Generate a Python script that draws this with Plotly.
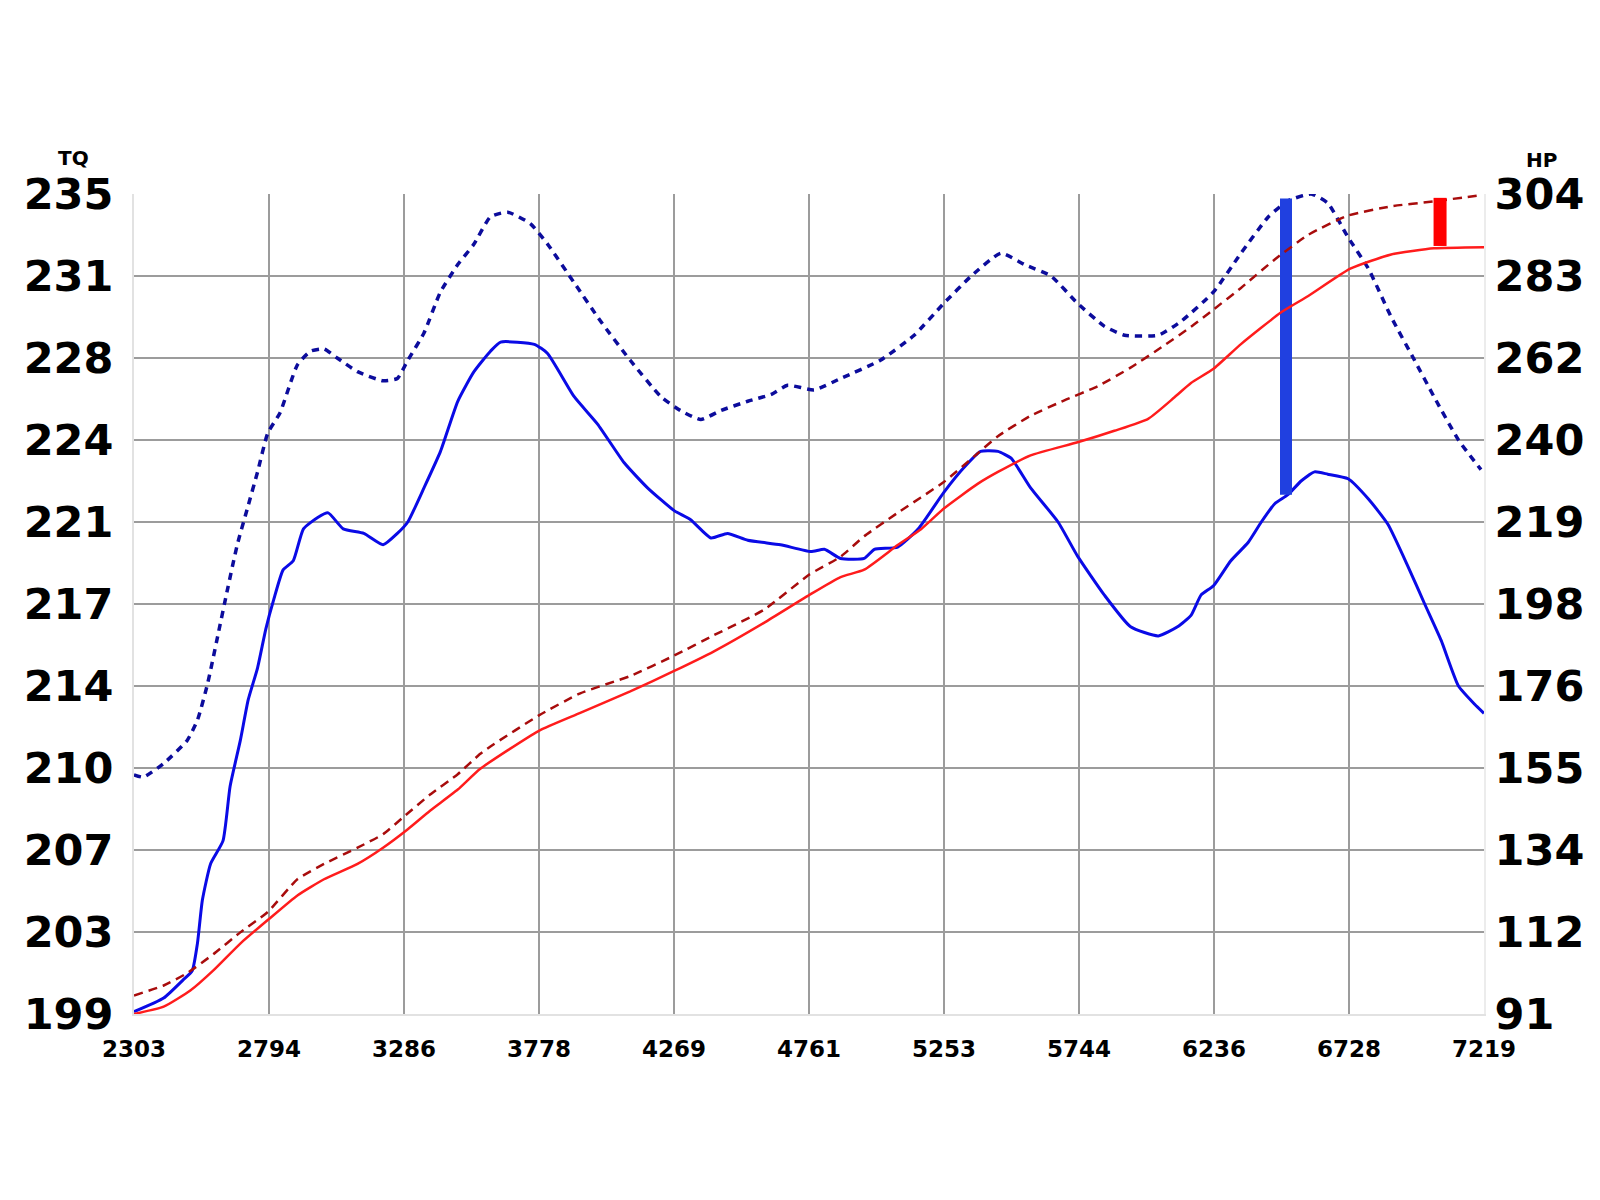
import plotly.graph_objects as go

# ---- axis ticks ----
rpm_ticks = [2303, 2794, 3286, 3778, 4269, 4761, 5253, 5744, 6236, 6728, 7219]
tq_labels = ["199", "203", "207", "210", "214", "217", "221", "224", "228", "231", "235"]
hp_labels = ["91", "112", "134", "155", "176", "198", "219", "240", "262", "283", "304"]
TQ_MIN, TQ_MAX = 199, 235
HP_MIN, HP_MAX = 91, 304
RPM_MIN, RPM_MAX = 2303, 7219

# ---- torque, run A (solid blue) ----
tq_a_rpm = [2303, 2411, 2482, 2515, 2534, 2552, 2582, 2627, 2653, 2690, 2719, 2753, 2783, 2812,
            2846, 2883, 2920, 2972, 3010, 3065, 3140, 3210, 3262, 3300, 3359, 3419, 3482, 3541,
            3601, 3638, 3761, 3809, 3906, 3991, 4088, 4173, 4270, 4330, 4404, 4464, 4538, 4657,
            4768, 4817, 4876, 4962, 4999, 5084, 5159, 5252, 5326, 5386, 5449, 5497, 5568, 5668,
            5739, 5836, 5932, 6033, 6103, 6152, 6189, 6234, 6297, 6360, 6408, 6457, 6505, 6553,
            6602, 6650, 6724, 6799, 6869, 6944, 7003, 7063, 7126, 7185, 7219]
tq_a = [199.1, 199.7, 200.5, 200.9, 202.1, 204.0, 205.6, 206.6, 209.0, 211.0, 212.8, 214.2, 215.9,
        217.2, 218.5, 218.9, 220.3, 220.8, 221.0, 220.3, 220.1, 219.6, 220.1, 220.6, 222.1, 223.7,
        225.9, 227.2, 228.1, 228.5, 228.4, 228.0, 226.1, 224.9, 223.2, 222.1, 221.1, 220.7, 219.9,
        220.1, 219.8, 219.6, 219.3, 219.4, 219.0, 219.0, 219.4, 219.5, 220.3, 221.9, 223.0, 223.7,
        223.7, 223.4, 222.1, 220.6, 219.1, 217.4, 216.0, 215.6, 216.0, 216.5, 217.4, 217.8, 218.9,
        219.7, 220.6, 221.4, 221.8, 222.4, 222.8, 222.7, 222.5, 221.6, 220.5, 218.6, 217.0, 215.4,
        213.4, 212.6, 212.2]

# ---- torque, run B (dotted navy) ----
tq_b_rpm = [2303, 2337, 2411, 2496, 2534, 2571, 2608, 2641, 2679, 2716, 2753, 2790, 2835, 2898,
            2946, 2995, 3043, 3117, 3210, 3262, 3300, 3359, 3419, 3482, 3541, 3601, 3664, 3746,
            3809, 3906, 4003, 4110, 4222, 4292, 4367, 4441, 4538, 4623, 4683, 4780, 4876, 5021,
            5144, 5252, 5352, 5460, 5546, 5642, 5739, 5836, 5910, 6033, 6115, 6234, 6334, 6434,
            6505, 6590, 6650, 6724, 6799, 6881, 6966, 7037, 7126, 7208]
tq_b = [209.5, 209.4, 210.0, 211.0, 211.9, 213.5, 215.6, 217.5, 219.6, 221.2, 222.8, 224.5, 225.4,
        227.5, 228.1, 228.2, 227.8, 227.2, 226.8, 226.9, 227.7, 228.9, 230.7, 231.9, 232.8, 234.0,
        234.2, 233.7, 232.8, 231.1, 229.4, 227.7, 226.1, 225.5, 225.1, 225.5, 225.9, 226.2, 226.6,
        226.4, 226.9, 227.7, 228.8, 230.2, 231.4, 232.4, 231.9, 231.4, 230.2, 229.2, 228.8, 228.8,
        229.4, 230.7, 232.4, 234.0, 234.7, 235.0, 234.6, 233.1, 231.7, 229.6, 227.7, 226.1, 224.2,
        222.9]

# ---- horsepower, run A (solid red) ----
hp_a_rpm = [2303, 2411, 2508, 2593, 2690, 2790, 2898, 2995, 3117, 3210, 3300, 3381, 3482, 3564,
            3776, 3928, 4110, 4270, 4415, 4597, 4761, 4876, 4962, 5084, 5170, 5252, 5375, 5449,
            5568, 5739, 5873, 5996, 6092, 6152, 6234, 6334, 6479, 6579, 6732, 6881, 7037, 7219]
hp_a = [91.0, 92.9, 97.1, 102.4, 109.3, 115.4, 121.8, 126.0, 130.0, 134.2, 139.0, 143.8, 149.3,
        154.7, 164.5, 169.2, 174.8, 180.1, 185.2, 192.6, 199.8, 204.5, 206.4, 212.8, 217.0, 222.3,
        228.7, 231.8, 236.1, 239.5, 242.5, 245.6, 251.2, 254.9, 258.6, 265.0, 273.2, 277.5, 284.6,
        288.3, 289.9, 290.2]

# ---- horsepower, run B (dashed dark red) ----
hp_b_rpm = [2303, 2411, 2496, 2593, 2690, 2790, 2898, 2995, 3117, 3210, 3288, 3381, 3482, 3564,
            3601, 3776, 3928, 4110, 4270, 4415, 4597, 4761, 4876, 4962, 5084, 5252, 5375, 5449,
            5568, 5691, 5813, 5932, 6055, 6152, 6234, 6334, 6457, 6579, 6724, 6881, 7037, 7208]
hp_b = [95.8, 98.4, 101.6, 106.6, 112.2, 117.5, 126.0, 130.0, 134.2, 137.7, 142.4, 148.0, 153.3,
        158.6, 160.5, 168.5, 174.3, 178.8, 184.1, 189.4, 196.0, 205.1, 209.8, 215.1, 221.2, 229.2,
        236.6, 241.1, 246.4, 250.4, 254.1, 258.9, 264.7, 269.5, 274.0, 279.6, 287.0, 293.4, 298.4,
        300.8, 302.1, 303.7]

# ---- difference markers ----
tq_gain_rpm = [6498, 6498]
tq_gain = [221.8, 234.8]
hp_gain_rpm = [7059, 7059]
hp_gain = [290.5, 303.0]

n = len(rpm_ticks) - 1
tq_vals = [TQ_MIN + (TQ_MAX - TQ_MIN) * i / n for i in range(n + 1)]
hp_vals = [HP_MIN + (HP_MAX - HP_MIN) * i / n for i in range(n + 1)]
x_vals = [RPM_MIN + (RPM_MAX - RPM_MIN) * i / n for i in range(n + 1)]

fig = go.Figure()

fig.add_trace(go.Scatter(x=hp_b_rpm, y=hp_b, yaxis="y2", mode="lines",
                         line=dict(color="#a80c0c", width=2.5, dash="9px,6px", shape="spline", smoothing=0.5)))
fig.add_trace(go.Scatter(x=hp_a_rpm, y=hp_a, yaxis="y2", mode="lines",
                         line=dict(color="#ff1c1c", width=2.5, shape="spline", smoothing=0.5)))
fig.add_trace(go.Scatter(x=tq_b_rpm, y=tq_b, mode="lines",
                         line=dict(color="#0c0c9c", width=3.5, dash="7px,6px", shape="spline", smoothing=0.5)))
fig.add_trace(go.Scatter(x=tq_a_rpm, y=tq_a, mode="lines",
                         line=dict(color="#0a0ae6", width=3, shape="spline", smoothing=0.5)))
fig.add_trace(go.Scatter(x=tq_gain_rpm, y=tq_gain, mode="lines",
                         line=dict(color="#2040e0", width=12)))
fig.add_trace(go.Scatter(x=hp_gain_rpm, y=hp_gain, yaxis="y2", mode="lines",
                         line=dict(color="#ff0000", width=13)))

big = dict(family="DejaVu Sans", size=43, color="black", weight="bold")
small = dict(family="DejaVu Sans", size=23, color="black", weight="bold")
title_font = dict(family="DejaVu Sans", size=20, color="black", weight="bold")

fig.update_layout(
    width=1600, height=1200,
    margin=dict(l=134, r=116, t=194, b=186),
    paper_bgcolor="white", plot_bgcolor="white",
    showlegend=False,
    xaxis=dict(range=[RPM_MIN, RPM_MAX], tickmode="array", tickvals=x_vals,
               ticktext=[str(v) for v in rpm_ticks], tickfont=small,
               showgrid=True, gridcolor="#9c9c9c", gridwidth=2, zeroline=False,
               showline=True, linecolor="#e2e2e2", linewidth=2, mirror=False,
               ticks="", ticklabelstandoff=13),
    yaxis=dict(range=[TQ_MIN, TQ_MAX], tickmode="array", tickvals=tq_vals, ticktext=tq_labels,
               tickfont=big, showgrid=True, gridcolor="#9c9c9c", gridwidth=2, zeroline=False,
               showline=True, linecolor="#e2e2e2", linewidth=2, ticks="", ticklabelstandoff=10),
    yaxis2=dict(range=[HP_MIN, HP_MAX], overlaying="y", side="right", tickmode="array",
                tickvals=hp_vals, ticktext=hp_labels, tickfont=big, showgrid=False,
                zeroline=False, showline=True, linecolor="#ececec", linewidth=2, ticks="",
                ticklabelstandoff=0),
    annotations=[
        dict(text="TQ", xref="paper", yref="paper", x=(73 - 134) / 1350, y=(1014 - 158) / 820,
             xanchor="center", yanchor="middle", showarrow=False, font=title_font),
        dict(text="HP", xref="paper", yref="paper", x=(1541 - 134) / 1350, y=(1014 - 160) / 820,
             xanchor="center", yanchor="middle", showarrow=False, font=title_font),
    ],
)

fig.write_html("out.html")
